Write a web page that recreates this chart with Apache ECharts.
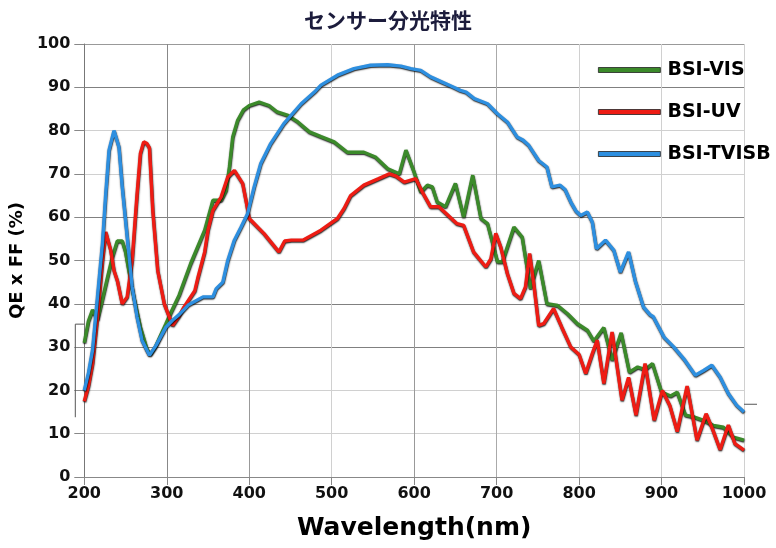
<!DOCTYPE html>
<html>
<head>
<meta charset="utf-8">
<script src="https://cdn.jsdelivr.net/npm/echarts@6/dist/echarts.min.js"></script>
<style>html,body{margin:0;padding:0;background:#fff;}#c{width:776px;height:548px;}</style>
</head>
<body>
<div id="c"></div>
<script>
var titleText = 'センサー分光特性';
var xName = 'Wavelength(nm)';
var yName = 'QE x FF (%)';
var seriesNames = ['BSI-VIS', 'BSI-UV', 'BSI-TVISB'];
var seriesColors = ['#3b8a2a', '#ee1c14', '#2d8fe0'];
var xTicks = [200, 300, 400, 500, 600, 700, 800, 900, 1000];
var yTicks = [0, 10, 20, 30, 40, 50, 60, 70, 80, 90, 100];

var visData = [[200,31],[205,36],[210,38.6],[216,36.3],[222,41],[228,46],[234,50.8],[240,54.5],[246,54.5],[250,52],[254,47.7],[260,41.6],[268,34.6],[276,29.5],[280,28.3],[286,30],[292,32.5],[299,35.4],[305,38],[315,42],[329,49.3],[346,57],[356,63.9],[366,63.9],[372,66.2],[376,71.6],[380,78.5],[386,82.4],[393,84.8],[400,85.8],[412,86.6],[424,85.8],[434,84.3],[447,83.5],[459,82],[473,79.7],[487,78.6],[503,77.4],[519,75],[539,75],[553,73.9],[568,71.2],[582,70],[590,75.5],[600,70.4],[608,65.8],[616,67.4],[622,67],[628,63.5],[638,62.4],[650,67.8],[660,60],[671,69.7],[681,59.7],[689,58.5],[701,49.7],[707,49.7],[721,57.7],[731,55.4],[741,43.5],[751,50],[761,40],[774,39.6],[786,37.7],[798,35.4],[810,33.9],[818,31.4],[830,34.5],[840,27],[851,33.3],[861,24.2],[871,25.4],[880,24.8],[889,26.2],[900,19.6],[911,18.7],[919,19.6],[929,14.3],[939,13.9],[951,13.1],[963,11.9],[975,11.5],[987,9.2],[1000,8.5]];

var uvData = [[200,17.5],[205,21],[210,26.2],[216,37],[222,50],[226,56.6],[232,52.4],[236,47.7],[240,45.4],[246,40],[252,41.6],[258,50],[264,65.4],[268,74.7],[272,77.4],[276,77],[279,76],[283,61.6],[289,47.7],[297,40],[307,35],[315,37.2],[321,39.3],[334,43],[338,46.2],[346,52],[350,57],[356,61.6],[366,64.7],[374,69.3],[382,70.8],[392,67.8],[396,63.9],[400,59.7],[418,56.2],[436,52],[443,54.5],[451,54.7],[465,54.7],[487,57],[507,59.7],[515,62],[523,65],[539,67.4],[557,68.9],[570,70],[578,69.5],[588,68.1],[602,68.9],[610,65.8],[620,62.4],[630,62.4],[652,58.5],[660,58.1],[672,52],[687,48.5],[693,50.4],[699,56.3],[705,53.1],[713,47],[721,42.4],[729,41.2],[735,43.9],[740,51.6],[745,44.7],[751,35],[757,35.4],[769,38.9],[779,34.6],[790,30],[800,28.3],[808,23.9],[816,28.5],[822,31.6],[830,21.6],[840,33.5],[852,17.7],[860,23],[869,14.3],[880,26.2],[891,13.1],[901,20],[910,16.5],[919,10.5],[931,21],[943,8.5],[954,14.6],[962,11],[971,6.3],[981,12],[989,7.7],[1000,6.2]];

var tvisbData = [[200,20],[205,24],[210,29.3],[216,41.6],[222,53.9],[226,65.4],[230,75.5],[236,80],[242,76.2],[246,67],[250,59.3],[254,51.6],[258,43.9],[264,37],[270,31.6],[279,28.1],[287,30.4],[299,34.6],[307,36.2],[315,37.5],[326,39.7],[344,41.6],[356,41.6],[360,43.5],[368,45],[374,50],[382,54.7],[390,57.7],[398,60.8],[406,67],[414,72.4],[426,77],[442,81.6],[463,86.2],[479,88.9],[487,90.5],[507,92.8],[527,94.3],[547,95.1],[568,95.2],[584,94.9],[596,94.3],[608,93.9],[620,92.4],[634,91.2],[648,90],[656,89.3],[663,88.9],[673,87.4],[689,86.2],[701,83.9],[713,82],[725,78.5],[732,77.8],[739,76.6],[751,73.1],[761,71.6],[767,67],[777,67.4],[783,66.4],[790,63.5],[796,61.5],[802,60.4],[810,61.2],[816,58.9],[821,52.7],[832,54.7],[842,52.4],[850,47.3],[860,52],[868,45.4],[878,39.3],[886,37.5],[890,37],[903,32.3],[915,30],[927,27.3],[941,23.5],[951,24.6],[961,25.8],[971,23.1],[981,19.3],[991,16.6],[1000,15]];

var allData = [visData, uvData, tvisbData];
var hGridColors = ['#999','#d0d0d0','#d0d0d0','#808080','#808080','#d0d0d0','#808080','#d0d0d0','#d0d0d0','#808080','#999'];
var vGridColors = ['#888','#888','#999','#d0d0d0','#999','#aaa','#d0d0d0','#d0d0d0','#d0d0d0'];

var chart = echarts.init(document.getElementById('c'));
var series = seriesNames.map(function (n, i) {
  return {
    name: n, type: 'line', data: allData[i], showSymbol: false, smooth: false,
    color: seriesColors[i],
    lineStyle: { width: 3.4, color: seriesColors[i], shadowColor: 'rgba(0,0,0,0.9)', shadowBlur: 1.5, shadowOffsetX: 0.3, shadowOffsetY: 1 },
    emphasis: { disabled: true }, animation: false
  };
});

chart.setOption({
  animation: false,
  title: { text: titleText, left: 'center', top: 5,
    textStyle: { fontFamily: 'Noto Sans CJK JP', fontWeight: 'bold', fontSize: 21, color: '#1c1c3c' } },
  legend: {
    orient: 'vertical', left: 593, top: 55, itemWidth: 62, itemHeight: 5, itemGap: 22,
    icon: 'rect',
    itemStyle: { borderColor: '#222', borderWidth: 0.8 },
    textStyle: { fontFamily: 'DejaVu Sans', fontWeight: 'bold', fontSize: 19, color: '#000', lineHeight: 20, padding: [0,0,0,2] },
    data: seriesNames
  },
  grid: { left: 83, right: 32, top: 44, bottom: 71, containLabel: false },
  xAxis: {
    type: 'value', min: 200, max: 1000, interval: 100,
    name: xName, nameLocation: 'middle', nameGap: 39,
    nameTextStyle: { fontFamily: 'DejaVu Sans', fontWeight: 'bold', fontSize: 25, color: '#000' },
    axisLine: { show: true, lineStyle: { color: '#888', width: 1 } },
    axisTick: { show: true, length: 8, lineStyle: { color: '#888' } },
    axisLabel: { margin: 9, fontFamily: 'DejaVu Sans', fontWeight: 'bold', fontSize: 16, color: '#111',
      formatter: function (v) { return xTicks.indexOf(v) >= 0 ? String(v) : ''; } },
    splitLine: { show: true, lineStyle: { color: vGridColors, width: 1 } }
  },
  yAxis: {
    type: 'value', min: 0, max: 100, interval: 10,
    name: yName, nameLocation: 'middle', nameGap: 43, nameRotate: 90,
    nameTextStyle: { fontFamily: 'DejaVu Sans', fontWeight: 'bold', fontSize: 18, color: '#000' },
    axisLine: { show: true, lineStyle: { color: '#777', width: 1 } },
    axisTick: { show: true, length: 10, lineStyle: { color: '#888' } },
    axisLabel: { margin: 14, fontFamily: 'DejaVu Sans', fontWeight: 'bold', fontSize: 16, color: '#111',
      formatter: function (v) { return yTicks.indexOf(v) >= 0 ? String(v) : ''; } },
    splitLine: { show: true, lineStyle: { color: hGridColors, width: 1 } }
  },
  series: series
});

var pTop = chart.convertToPixel({ gridIndex: 0 }, [200, 35.3]);
var pBot = chart.convertToPixel({ gridIndex: 0 }, [200, 13.8]);
var pR = chart.convertToPixel({ gridIndex: 0 }, [1000, 16.8]);
chart.setOption({
  graphic: [
    { type: 'polyline', shape: { points: [[pTop[0], pTop[1]], [pTop[0] - 9, pTop[1]], [pBot[0] - 9, pBot[1]]] },
      style: { stroke: '#555', lineWidth: 1, fill: null }, silent: true, z: 10 },
    { type: 'line', shape: { x1: pR[0], y1: pR[1], x2: pR[0] + 13, y2: pR[1] },
      style: { stroke: '#555', lineWidth: 1 }, silent: true, z: 10 }
  ]
});
</script>
</body>
</html>
